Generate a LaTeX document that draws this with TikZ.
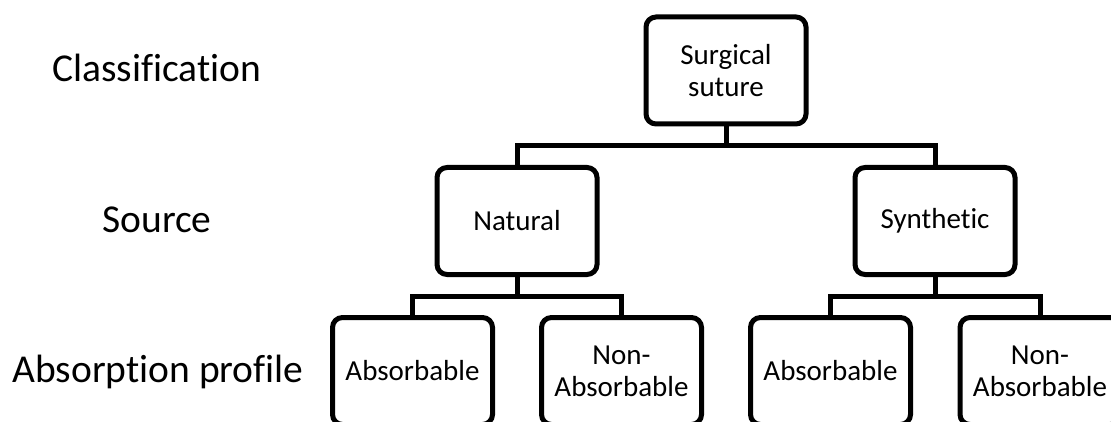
\documentclass[tikz,border=0pt]{standalone}
\usepackage{fontspec}
\setmainfont[RawFeature={-liga;-clig}]{Carlito}
\begin{document}
\begin{tikzpicture}[x=1pt,y=-1pt,
  box/.style={draw=black,line width=5pt,rounded corners=10pt,fill=white,
    minimum width=160pt,minimum height=107pt,inner sep=0pt,align=center,
    font=\fontsize{29}{32}\selectfont},
  lvl/.style={anchor=base,inner sep=0pt,font=\fontsize{39.5}{47}\selectfont},
  conn/.style={line width=5pt,line join=miter}]
\useasboundingbox (0,0) rectangle (1111,422);
\clip (0,0) rectangle (1111,422);
\fill[white] (0,0) rectangle (1111,422);
% level labels
\node[lvl] (l1) at (157,82) {Classification};
\node[lvl] (l2) at (157,233) {Source};
\node[lvl] (l3) at (158,382) {Absorption profile};
% boxes
\node[box] (top) at (726,70.5) {Surgical\\suture};
\node[box] (nat) at (517,221) {Natural};
\node[box] (syn) at (935,221) {Synthetic};
\node[box] (na) at (412.5,371) {Absorbable};
\node[box] (nn) at (621.5,371) {Non-\\Absorbable};
\node[box] (sa) at (830.5,371) {Absorbable};
\node[box] (sn) at (1040,371) {Non-\\Absorbable};
% bar coordinates
\coordinate (b1) at (726,145.5);
\coordinate (b2) at (517,296);
\coordinate (b3) at (935,296);
% connectors
\draw[conn] (top.south) -- (b1);
\draw[conn] (nat.north) |- (b1) -| (syn.north);
\draw[conn] (nat.south) -- (b2);
\draw[conn] (na.north) |- (b2) -| (nn.north);
\draw[conn] (syn.south) -- (b3);
\draw[conn] (sa.north) |- (b3) -| (sn.north);
\end{tikzpicture}
\end{document}
